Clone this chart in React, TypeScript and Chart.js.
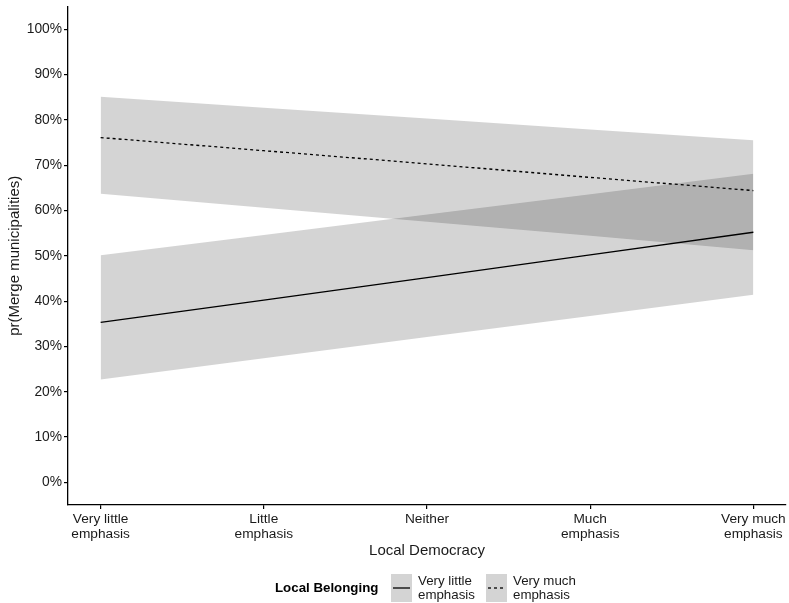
import React, { useEffect, useRef } from "react";
import { Chart, registerables } from "chart.js";

Chart.register(...registerables);

const categories = [
  ["Very little", "emphasis"],
  ["Little", "emphasis"],
  ["Neither"],
  ["Much", "emphasis"],
  ["Very much", "emphasis"],
];
const xPositions = [1, 2, 3, 4, 5];

// Local Belonging: Very little emphasis (solid)
const littleFit = [35.3, 40.2, 45.2, 50.2, 55.2];
const littleUpper = [50.1, 54.6, 59.1, 63.6, 68.1];
const littleLower = [22.7, 27.4, 32.1, 36.7, 41.4];

// Local Belonging: Very much emphasis (dashed)
const muchFit = [76.1, 73.2, 70.3, 67.3, 64.4];
const muchUpper = [85.1, 82.7, 80.3, 77.9, 75.5];
const muchLower = [63.7, 60.6, 57.5, 54.4, 51.2];

const yTicks = [0, 10, 20, 30, 40, 50, 60, 70, 80, 90, 100];

const legendTitle = "Local Belonging";
const legendItems = [
  { label: ["Very little", "emphasis"], dash: [] as number[] },
  { label: ["Very much", "emphasis"], dash: [3, 3] },
];

const FONT = "'Liberation Sans', Arial, Helvetica, sans-serif";
const RIBBON = "rgba(0,0,0,0.17)";
const TEXT = "#1a1a1a";

const pts = (arr: number[]) => arr.map((y, i) => ({ x: xPositions[i], y }));

const legendPlugin = {
  id: "customLegend",
  afterDraw(chart: any) {
    const ctx = chart.ctx;
    ctx.save();
    ctx.fillStyle = "#000";
    ctx.font = `bold 13.3px ${FONT}`;
    ctx.textBaseline = "middle";
    ctx.textAlign = "left";
    ctx.fillText(legendTitle, 275, 588);
    const boxXs = [391, 486];
    legendItems.forEach((item, i) => {
      const bx = boxXs[i];
      ctx.fillStyle = RIBBON;
      ctx.fillRect(bx, 574, 21, 28);
      ctx.strokeStyle = "#000";
      ctx.lineWidth = 1.3;
      ctx.setLineDash(item.dash);
      ctx.beginPath();
      ctx.moveTo(bx + 2, 588);
      ctx.lineTo(bx + 19, 588);
      ctx.stroke();
      ctx.setLineDash([]);
      ctx.fillStyle = TEXT;
      ctx.font = `13.3px ${FONT}`;
      ctx.fillText(item.label[0], bx + 27, 581);
      ctx.fillText(item.label[1], bx + 27, 595);
    });
    ctx.restore();
  },
};

export default function App() {
  const ref = useRef<HTMLCanvasElement>(null);
  useEffect(() => {
    document.body.style.margin = "0";
    const ribbon = (data: number[], fill: any) => ({
      data: pts(data),
      borderWidth: 0,
      borderColor: "rgba(0,0,0,0)",
      backgroundColor: RIBBON,
      pointRadius: 0,
      fill,
      tension: 0,
    });
    const chart = new Chart(ref.current!, {
      type: "line",
      data: {
        datasets: [
          ribbon(muchUpper, "+1"),
          ribbon(muchLower, false),
          ribbon(littleUpper, "+1"),
          ribbon(littleLower, false),
          {
            data: pts(littleFit),
            borderColor: "#000",
            borderWidth: 1.3,
            pointRadius: 0,
            fill: false,
          },
          {
            data: pts(muchFit),
            borderColor: "#000",
            borderWidth: 1.3,
            borderDash: [3, 3],
            pointRadius: 0,
            fill: false,
          },
        ] as any,
      },
      options: {
        animation: false,
        responsive: false,
        events: [],
        layout: { padding: { top: 6.6, right: 3, left: 0, bottom: 38 } },
        plugins: { legend: { display: false }, tooltip: { enabled: false } },
        scales: {
          x: {
            type: "linear",
            min: 0.8,
            max: 5.2,
            afterBuildTicks: (s: any) => {
              s.ticks = xPositions.map((v) => ({ value: v }));
            },
            afterFit: (s: any) => {
              s.height = 60;
            },
            ticks: {
              callback: (v: any) => categories[xPositions.indexOf(Number(v))] ?? "",
              color: TEXT,
              font: { family: FONT, size: 13.7, lineHeight: 1.1 },
              padding: 3,
              maxRotation: 0,
              autoSkip: false,
            },
            grid: {
              display: true,
              drawOnChartArea: false,
              drawTicks: true,
              tickLength: 4,
              color: "#000",
              lineWidth: 1.2,
            },
            border: { display: true, color: "#000", width: 1.3 },
            title: {
              display: true,
              text: "Local Democracy",
              color: TEXT,
              font: { family: FONT, size: 15 },
              padding: { top: 0, bottom: 5 },
            },
          },
          y: {
            type: "linear",
            min: -5,
            max: 105,
            afterBuildTicks: (s: any) => {
              s.ticks = yTicks.map((v) => ({ value: v }));
            },
            afterFit: (s: any) => {
              s.width = 68;
              s.paddingTop = 0;
              s.paddingBottom = 0;
            },
            ticks: {
              callback: (v: any) => `${v}%`,
              color: TEXT,
              font: { family: FONT, size: 13.8 },
              padding: 2,
            },
            grid: {
              display: true,
              drawOnChartArea: false,
              drawTicks: true,
              tickLength: 4,
              color: "#000",
              lineWidth: 1.2,
            },
            border: { display: true, color: "#000", width: 1.3 },
            title: {
              display: true,
              text: "pr(Merge municipalities)",
              color: TEXT,
              font: { family: FONT, size: 15 },
              padding: { top: 6, bottom: 0 },
            },
          },
        },
      } as any,
      plugins: [legendPlugin],
    });
    return () => chart.destroy();
  }, []);
  return <canvas ref={ref} width={789} height={603} style={{ display: "block" }} />;
}
